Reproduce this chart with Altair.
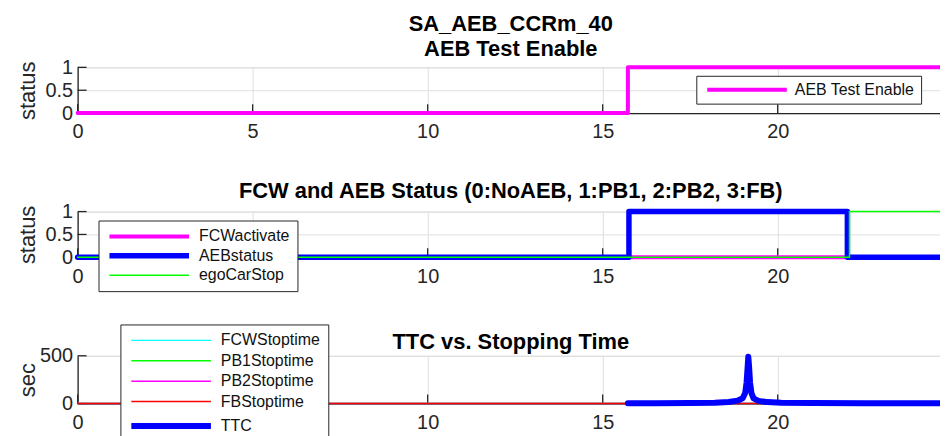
import altair as alt
import pandas as pd

FONT = "Liberation Sans"
X_END = 24.75
x_ticks = [0, 5, 10, 15, 20]

# ---- Panel 1: AEB Test Enable ----
p1_names = ["AEB Test Enable"]
p1_colors = ["#FF00FF"]
p1_widths = [4]
aeb_enable_t = [0, 15.72, X_END]
aeb_enable_v = [0, 1, 1]

# ---- Panel 2: FCW and AEB status ----
p2_names = ["FCWactivate", "AEBstatus", "egoCarStop"]
p2_colors = ["#FF00FF", "#0000FF", "#00FF00"]
p2_widths = [4, 5.5, 1.5]
fcw_t = [0, X_END]
fcw_v = [0, 0]
aeb_status_t = [0, 15.75, 21.99, X_END]
aeb_status_v = [0, 1, 0, 0]
ego_stop_t = [0, 22.05, X_END]
ego_stop_v = [0, 1, 1]

# ---- Panel 3: TTC vs stopping time ----
p3_names = ["FCWStoptime", "PB1Stoptime", "PB2Stoptime", "FBStoptime", "TTC"]
p3_colors = ["#00FFFF", "#00FF00", "#FF00FF", "#FF0000", "#0000FF"]
p3_widths = [1.5, 1.5, 1.5, 1.5, 6]
fcw_stop_t = [0, X_END]
fcw_stop_v = [0, 0]
pb1_stop_t = [0, X_END]
pb1_stop_v = [0, 0]
pb2_stop_t = [0, X_END]
pb2_stop_v = [0, 0]
fb_stop_t = [0, X_END]
fb_stop_v = [0, 0]
ttc_t = [15.72, 16.5, 17.5, 18.2, 18.6, 18.85, 19.0, 19.07, 19.11, 19.14, 19.16,
         19.18, 19.21, 19.25, 19.31, 19.45, 19.7, 20.1, 21.0, 22.5, X_END]
ttc_v = [3, 3.5, 5, 9, 16, 30, 55, 110, 220, 380, 490,
         400, 220, 110, 55, 28, 15, 9, 5, 4, 3.5]

W = 871
TICK = "#262626"


def panel(series, names, colors, widths, ydomain, yticks, ytitle, title,
          lx, ly, height, row_pad, leg_pad, sym_path, interp, title_offset, title_dy=0):
    legend = alt.Legend(
        title=None, orient="none", legendX=lx, legendY=ly,
        symbolType=sym_path, symbolSize=100,
        labelFont=FONT, labelFontSize=16, labelColor="#111111",
        strokeColor="#262626", fillColor="white", padding=leg_pad,
        rowPadding=row_pad, labelOffset=77,
    )
    xs = alt.Scale(domain=[0, X_END], nice=False, zero=False)
    ys = alt.Scale(domain=ydomain, nice=False, zero=False)
    xaxis = alt.Axis(values=x_ticks, format="d", grid=True, gridColor="#dfdfdf",
                     ticks=False, domainColor=TICK, domainWidth=1.3,
                     labelFont=FONT, labelFontSize=20, labelColor=TICK,
                     labelPadding=9, labelFlush=False, labelOverlap=False, title=None)
    yaxis = alt.Axis(values=yticks, labelExpr="'' + datum.value", grid=True,
                     gridColor="#dfdfdf",
                     ticks=False, domainColor=TICK, domainWidth=1.3,
                     labelFont=FONT, labelFontSize=20, labelColor=TICK,
                     labelPadding=5, labelFlush=False, labelOverlap=False,
                     title=ytitle, titleFont=FONT, titleFontSize=22,
                     titleFontWeight="normal", titleColor=TICK,
                     titleX=-43, titleBaseline="alphabetic")
    X = alt.X("t:Q", scale=xs, axis=xaxis)
    Y = alt.Y("v:Q", scale=ys, axis=yaxis)
    S = alt.Stroke("series:N", scale=alt.Scale(domain=names, range=colors), legend=legend)
    SW = alt.StrokeWidth("series:N",
                         scale=alt.Scale(type="ordinal", domain=names, range=widths),
                         legend=legend)

    xt = alt.Chart(pd.DataFrame({"t": x_ticks})).mark_rule(color=TICK, strokeWidth=1.3).encode(
        x=X, y=alt.value(height), y2=alt.value(height - 9))
    yt = alt.Chart(pd.DataFrame({"v": yticks})).mark_rule(color=TICK, strokeWidth=1.3).encode(
        y=Y, x=alt.value(0), x2=alt.value(9))
    layers = [xt, yt]
    for n, (t, v) in zip(names, series):
        df = pd.DataFrame({"t": t, "v": v, "series": n})
        layers.append(
            alt.Chart(df).mark_line(interpolate=interp, strokeCap="round", strokeJoin="round")
            .encode(x=X, y=Y, stroke=S, strokeWidth=SW)
        )
    return alt.layer(*layers).properties(
        width=W, height=height,
        title=alt.TitleParams(text=title, font=FONT, fontSize=22, fontWeight="bold",
                              color="black", anchor="middle", frame="group",
                              offset=title_offset, dy=title_dy, lineHeight=25),
    )


p1 = panel([(aeb_enable_t, aeb_enable_v)], p1_names, p1_colors, p1_widths,
           [0, 1], [0, 0.5, 1], "status", ["SA_AEB_CCRm_40", "AEB Test Enable"],
           622, 8.5, 46, 3, 6, "M-0.6,0L15.4,0", "step-after", -3.5)
p2 = panel([(fcw_t, fcw_v), (aeb_status_t, aeb_status_v), (ego_stop_t, ego_stop_v)],
           p2_names, p2_colors, p2_widths, [0, 1], [0, 0.5, 1], "status",
           "FCW and AEB Status (0:NoAEB, 1:PB1, 2:PB2, 3:FB)",
           21, 9, 46, 0.5, 8, "M-1,0L15,0", "step-after", -1)
p3 = panel([(fcw_stop_t, fcw_stop_v), (pb1_stop_t, pb1_stop_v), (pb2_stop_t, pb2_stop_v),
            (fb_stop_t, fb_stop_v), (ttc_t, ttc_v)],
           p3_names, p3_colors, p3_widths, [0, 500], [0, 500], "sec",
           "TTC vs. Stopping Time", 43, -31.5, 48, 4.5, 8, "M-1,0L15,0", "linear", -1, 29)

chart = alt.vconcat(p1, p2, p3, spacing=99, bounds="flush").resolve_scale(
    stroke="independent", strokeWidth="independent"
).configure_view(stroke=None).configure(
    padding={"left": 8, "top": 3.5, "right": -8, "bottom": -10}
)

chart.save("out.html", embed_options={"renderer": "svg", "actions": False})
